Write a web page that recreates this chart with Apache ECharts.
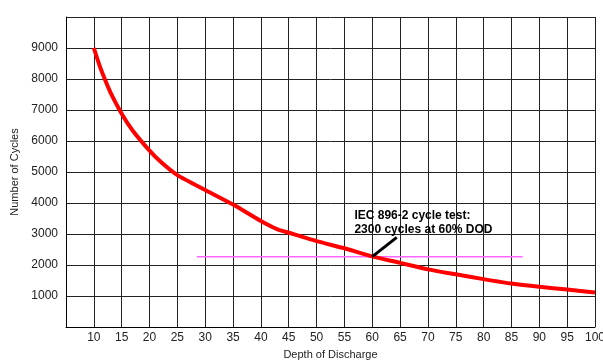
<!DOCTYPE html>
<html>
<head>
<meta charset="utf-8">
<script src="https://cdn.jsdelivr.net/npm/echarts@6/dist/echarts.min.js"></script>
<style>
  html, body { margin: 0; padding: 0; background: #fff; }
  #chart { width: 603px; height: 360px; }
</style>
</head>
<body>
<div id="chart"></div>
<script>
// depth of discharge (%) vs cycles
var dod = [10, 11, 12, 13, 15, 17, 20, 22, 25, 30, 35, 40, 43, 45, 50, 55, 60, 65, 70, 75, 80, 85, 90, 95, 100];
var cycles = [9000, 8450, 7980, 7560, 6880, 6330, 5690, 5330, 4900, 4420, 3950, 3420, 3150, 3040, 2770, 2540, 2280, 2070, 1860, 1700, 1545, 1400, 1295, 1210, 1110];

// pink reference line at the IEC test level
var refX = [28.5, 87];
var refY = [2268, 2268];

// arrow from the test point up to the note
var arrowX = [60, 64.4];
var arrowY = [2270, 2890];

var noteLines = ['IEC 896-2 cycle test:', '2300 cycles at 60% DOD'];
var notePos = [56.7, 3380];

var font = 'Liberation Sans, Arial, sans-serif';

function pairs(xs, ys) {
    var out = [];
    for (var i = 0; i < xs.length; i++) out.push([xs[i], ys[i]]);
    return out;
}

var myChart = echarts.init(document.getElementById('chart'));

var option = {
    animation: false,
    grid: { left: 66, right: 8, top: 17, bottom: 33, outerBoundsMode: 'none' },
    xAxis: {
        type: 'value',
        min: 5,
        max: 100,
        interval: 5,
        name: 'Depth of Discharge',
        nameLocation: 'middle',
        nameGap: 22,
        nameTextStyle: { color: '#222', fontFamily: font, fontSize: 11 },
        axisLine: { show: true, lineStyle: { color: '#000', width: 1 } },
        axisTick: { show: false },
        axisLabel: {
            color: '#222', fontFamily: font, fontSize: 12, margin: 5,
            formatter: function (v) { return v === 5 ? '' : v; }
        },
        splitLine: { show: true, lineStyle: { color: '#222', width: 1 } }
    },
    yAxis: {
        type: 'value',
        min: 0,
        max: 10000,
        interval: 1000,
        name: 'Number of Cycles',
        nameLocation: 'middle',
        nameGap: 46,
        nameTextStyle: { color: '#222', fontFamily: font, fontSize: 11 },
        axisLine: { show: true, lineStyle: { color: '#000', width: 1 } },
        axisTick: { show: false },
        axisLabel: {
            color: '#222', fontFamily: font, fontSize: 12, margin: 8,
            formatter: function (v) { return (v === 0 || v === 10000) ? '' : v; }
        },
        splitLine: { show: true, lineStyle: { color: '#222', width: 1 } }
    },
    series: [
        {
            type: 'line',
            data: pairs(refX, refY),
            symbol: 'none',
            lineStyle: { color: '#ff66ff', width: 1.5 },
            z: 3
        },
        {
            type: 'line',
            data: pairs(dod, cycles),
            symbol: 'none',
            smooth: 0.2,
            lineStyle: { color: '#ff0000', width: 4 },
            z: 4
        },
        {
            type: 'line',
            data: pairs(arrowX, arrowY),
            symbol: 'none',
            lineStyle: { color: '#000', width: 3 },
            z: 5,
            markPoint: {
                symbol: 'rect',
                symbolSize: 1,
                itemStyle: { color: 'rgba(0,0,0,0)' },
                label: {
                    show: true,
                    position: 'right',
                    distance: 0,
                    align: 'left',
                    color: '#000',
                    fontFamily: font,
                    fontSize: 12,
                    fontWeight: 'bold',
                    lineHeight: 14,
                    formatter: noteLines.join('\n')
                },
                data: [{ coord: notePos }]
            }
        }
    ]
};

myChart.setOption(option);
</script>
</body>
</html>
